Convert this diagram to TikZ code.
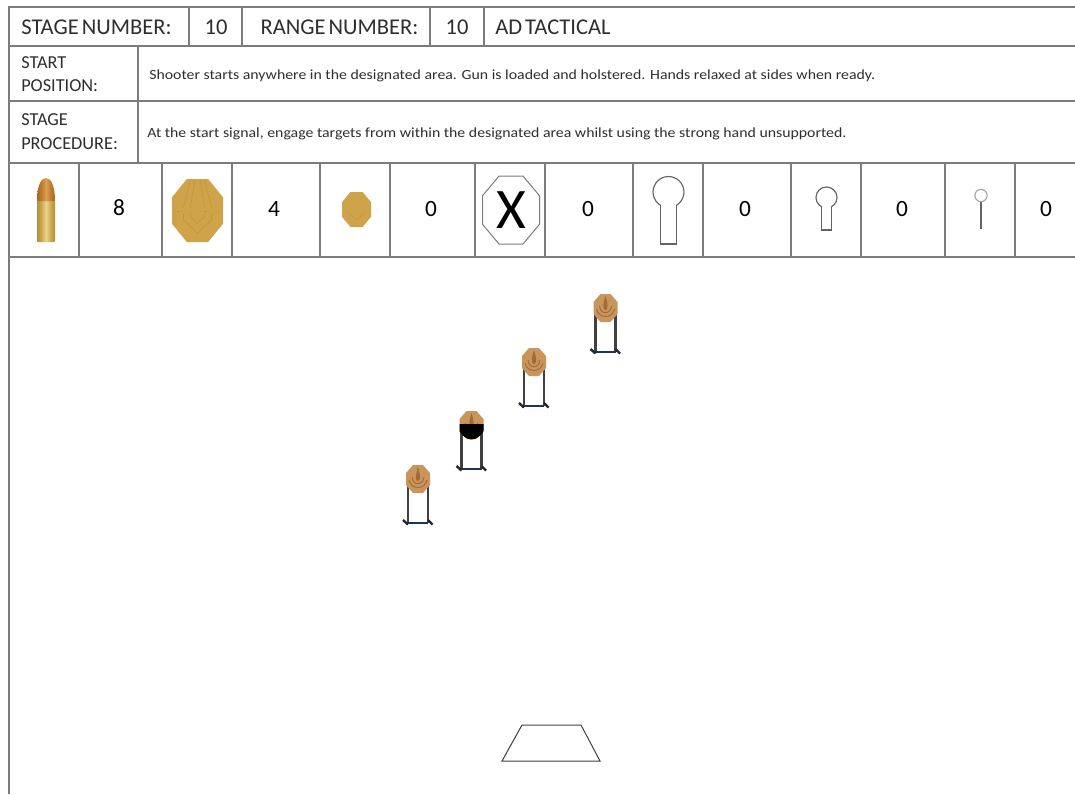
\documentclass[tikz,border=0pt]{standalone}
\usepackage{fontspec}
\setmainfont{Carlito}
\newfontfamily\bigface[WordSpace=0.6]{Carlito}
\newfontfamily\smallface[FakeStretch=1.13]{Carlito}
\definecolor{gridc}{HTML}{7C7C7C}
\definecolor{txtc}{HTML}{2E2E2E}
\definecolor{goldf}{HTML}{CFA349}
\definecolor{goldl}{HTML}{B98F3A}
\definecolor{headc}{HTML}{C9955C}
\definecolor{headd}{HTML}{A06C36}
\definecolor{navyc}{HTML}{1F3550}
\definecolor{brassd}{HTML}{7A5A1E}
\definecolor{brassm}{HTML}{C9A24A}
\definecolor{brassl}{HTML}{E8D48A}
\definecolor{copd}{HTML}{7A4A18}
\definecolor{copm}{HTML}{B9752C}
\definecolor{copl}{HTML}{DDA050}
\pgfdeclarehorizontalshading{brass}{100bp}{
  color(0bp)=(brassd); color(35bp)=(brassm); color(50bp)=(brassl);
  color(65bp)=(brassm); color(100bp)=(brassd)}
\pgfdeclarehorizontalshading{copper}{100bp}{
  color(0bp)=(copd); color(35bp)=(copm); color(50bp)=(copl);
  color(65bp)=(copm); color(100bp)=(copd)}
\tikzset{
  tablerule/.style={draw=gridc,line width=1.2pt},
  bigtext/.style={font=\bigface\fontsize{16.9pt}{19pt}\selectfont,text=txtc,inner sep=0pt},
  labtext/.style={font=\fontsize{13.7pt}{15pt}\selectfont,text=txtc,inner sep=0pt,anchor=west},
  smalltext/.style={font=\smallface\fontsize{10.5pt}{12pt}\selectfont,text=txtc,inner sep=0pt,anchor=west},
  numtext/.style={font=\fontsize{17.5pt}{19pt}\selectfont,text=black,inner sep=0pt},
  iconline/.style={draw=gridc!80!black,line width=.85pt},
  pics/stand/.style={code={
    \draw[black!75,line width=1.8pt] (-10,0)--(-10,44) (10,0)--(10,44);
    \draw[navyc,line width=1.8pt] (-10,44)--(10,44);
    \draw[black!85,line width=1.8pt] (-15,41)--(-10,45.5) (10,41)--(14.5,45.5);
  }},
  pics/head/.style={code={
    \fill[headc] (-12,-6)--(-5,-14)--(5,-14)--(12,-6)--(12,6)--(5,14)--(-5,14)--(-12,6)--cycle;
    \draw[headd,line width=.7pt] (-9,1) .. controls (-7,11) and (7,11) .. (9,1);
    \draw[headd,line width=.7pt] (-6,-2) .. controls (-5,7) and (5,7) .. (6,-2);
    \fill[headd] (0,-12) .. controls (-2.5,-4) and (-3,2) .. (0,2) .. controls (3,2) and (2.5,-4) .. (0,-12);
  }},
}
\begin{document}
\begin{tikzpicture}[x=.75pt,y=-.75pt]
\useasboundingbox (0,0) rectangle (1075,794);
% table rules
\draw[tablerule] (1075,7)--(9,7)--(9,794);
\foreach \y in {46,101,163,257} \draw[tablerule] (9,\y)--(1075,\y);
\foreach \x in {189,242,430,484} \draw[tablerule] (\x,7)--(\x,46);
\draw[tablerule] (138,46)--(138,163);
\foreach \x in {79,162,232,320,390,475,545,633,703,791,861,945,1015} \draw[tablerule] (\x,163)--(\x,257);
% header
\node[bigtext] (stage) at (96.5,27) {STAGE NUMBER:};
\node[bigtext] (stagen) at (216,27) {10};
\node[bigtext] (range) at (339.5,27) {RANGE NUMBER:};
\node[bigtext] (rangen) at (457,27) {10};
\node[bigtext,anchor=west] (title) at (495,27) {AD TACTICAL};
\node[labtext] (sp1) at (21,63) {START};
\node[labtext] (sp2) at (21,86) {POSITION:};
\node[labtext] (sq1) at (21,120) {STAGE};
\node[labtext] (sq2) at (21,144) {PROCEDURE:};
\node[smalltext] (start) at (149,76) {Shooter starts anywhere in the designated area. Gun is loaded and holstered. Hands relaxed at sides when ready.};
\node[smalltext] (proc) at (147,134) {At the start signal, engage targets from within the designated area whilst using the strong hand unsupported.};
% bullet
\shade[shading=brass,rounded corners=.7pt] (37,201) rectangle (55,242);
\shade[shading=copper] (37,201) .. controls (37,186) and (41,178) .. (46,178) .. controls (51,178) and (55,186) .. (55,201) -- cycle;
\node[numtext] (n1) at (119,208) {8};
% paper target
\begin{scope}[shift={(197.5,210.5)},x=19.125pt,y=-23.625pt]
\fill[goldf] (-1,-.42)--(-.42,-1)--(.42,-1)--(1,-.42)--(1,.42)--(.42,1)--(-.42,1)--(-1,.42)--cycle;
\draw[goldl!70!goldf,line width=.45pt] (-.55,.1) -- (-.55,.3) -- (0,.72) -- (.55,.3) -- (.55,.1) (-.28,.1) -- (-.28,.2) -- (0,.42) -- (.28,.2) -- (.28,.1);
\draw[goldl!70!goldf,line width=.45pt] (-.28,-.96) -- (-.55,-.1) (.28,-.96) -- (.55,-.1) (-.1,-.96) -- (-.28,-.1) (.1,-.96) -- (.28,-.1);
\draw[goldl,line width=.7pt,dash pattern=on 1.1pt off 9pt] (-.8,.02)--(.9,.02);
\end{scope}
\node[numtext] (n2) at (274,209) {4};
% mini target
\begin{scope}[shift={(356.5,209.5)},x=10.875pt,y=-13.125pt]
\fill[goldf] (-1,-.42)--(-.42,-1)--(.42,-1)--(1,-.42)--(1,.42)--(.42,1)--(-.42,1)--(-1,.42)--cycle;
\draw[goldl!70!goldf,line width=.3pt] (-.55,.2) -- (0,.6) -- (.55,.2);
\end{scope}
\node[numtext] (n3) at (431,209) {0};
% no-shoot
\begin{scope}[shift={(511,210)},x=21.375pt,y=-25.5pt]
\draw[gridc,line width=.75pt] (-1,-.42)--(-.42,-1)--(.42,-1)--(1,-.42)--(1,.42)--(.42,1)--(-.42,1)--(-1,.42)--cycle;
\end{scope}
\node[font=\fontsize{43pt}{45pt}\selectfont,text=black,inner sep=0pt] (xmark) at (511,210) {X};
\node[numtext] (n4) at (588,209) {0};
% large popper
\draw[iconline] (668.5,192) circle[radius=11.6pt];
\fill[white] (661,203) rectangle (676,210);
\draw[iconline] (660.5,205.3) -- (660.5,244) -- (676.5,244) -- (676.5,205.3);
\node[numtext] (n5) at (745,209) {0};
% medium popper
\draw[iconline] (826.5,197.5) circle[radius=7.9pt];
\fill[white] (822,204) rectangle (831,211);
\draw[iconline] (821.5,206.7) -- (821.5,230) -- (831.5,230) -- (831.5,206.7);
\node[numtext] (n6) at (902,209) {0};
% small popper
\draw[iconline] (981,202) -- (981,229);
\draw[iconline,draw=gridc!70] (981,195.5) circle[radius=4.6pt];
\node[numtext] (n7) at (1046,209) {0};
% stage targets
\foreach \name/\cx/\cy in {a/418/479,c/534/362,d/605.5/308}{
  \coordinate (t\name) at (\cx,\cy);
  \path (t\name) pic {stand};
  \path (t\name) pic {head};
}
\coordinate (tb) at (471.5,425);
\path (tb) pic {stand};
\path (tb) pic {head};
\fill[black] (459.5,424) -- (483.5,424) -- (483.5,431) .. controls (481,436) and (476,439.5) .. (471.5,439.5) .. controls (467,439.5) and (462,436) .. (459.5,431) -- cycle;
% shooting area
\coordinate (p1) at (502,761); \coordinate (p2) at (600,761);
\coordinate (p3) at (581,725); \coordinate (p4) at (522,725);
\draw[black!75,line width=.75pt] (p1)--(p2)--(p3)--(p4)--cycle;
\end{tikzpicture}
\end{document}
